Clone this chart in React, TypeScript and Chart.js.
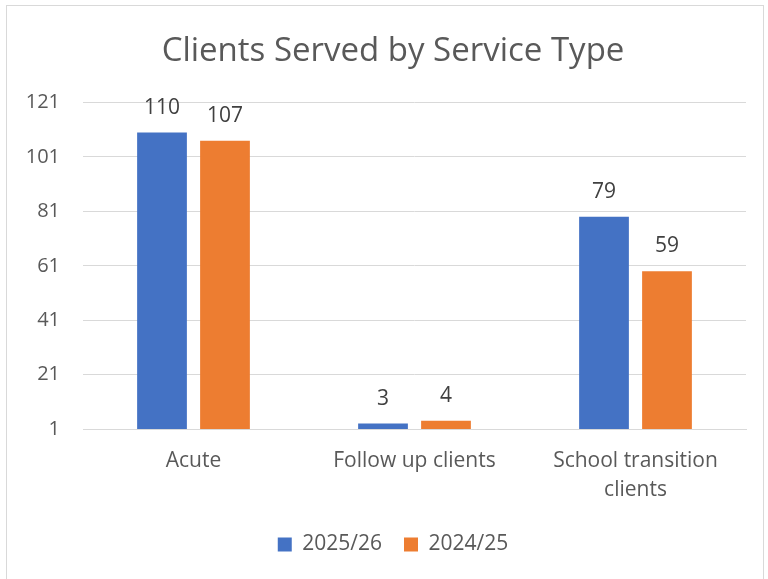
import React, { useEffect, useRef } from "react";
import { Chart, registerables } from "chart.js";

Chart.register(...registerables);

const categories: (string | string[])[] = ["Acute", "Follow up clients", ["School transition", "clients"]];
const series2526: number[] = [110, 3, 79];
const series2425: number[] = [107, 4, 59];
const yTicks: number[] = [1, 21, 41, 61, 81, 101, 121];

const FONT = "'Open Sans', Lato, sans-serif";
const TEXT = "#595959";

export default function App() {
  const ref = useRef<HTMLCanvasElement>(null);
  useEffect(() => {
    if (!ref.current) return;
    const labelPlugin = {
      id: "valueLabels",
      afterDatasetsDraw(chart: any) {
        const ctx = chart.ctx;
        ctx.save();
        ctx.font = `21px ${FONT}`;
        ctx.fillStyle = "#404040";
        ctx.textAlign = "center";
        ctx.textBaseline = "middle";
        chart.data.datasets.forEach((ds: any, di: number) => {
          const meta = chart.getDatasetMeta(di);
          meta.data.forEach((el: any, i: number) => {
            ctx.fillText(String(ds.data[i]), el.x, el.y - 25);
          });
        });
        ctx.restore();
      },
    };
    const chart = new Chart(ref.current, {
      type: "bar",
      data: {
        labels: categories,
        datasets: [
          {
            label: "2025/26",
            data: series2526,
            backgroundColor: "#4472C4",
            categoryPercentage: 0.57,
            barPercentage: 0.79,
            yAxisID: "y",
          },
          {
            label: "2024/25",
            data: series2425,
            backgroundColor: "#ED7D31",
            categoryPercentage: 0.57,
            barPercentage: 0.79,
            yAxisID: "y",
          },
        ],
      },
      options: {
        responsive: false,
        animation: false,
        layout: { padding: { left: 18, right: 0, top: 0, bottom: 14 } },
        plugins: {
          title: {
            display: true,
            text: "Clients Served by Service Type",
            color: TEXT,
            font: { family: FONT, size: 33, weight: "normal", lineHeight: 1.2 },
            padding: { top: 32, bottom: 31 },
          },
          legend: {
            position: "bottom",
            labels: {
              color: TEXT,
              font: { family: FONT, size: 21 },
              boxWidth: 14,
              boxHeight: 14,
              padding: 22,
            },
          },
          tooltip: { enabled: false },
        },
        scales: {
          x: {
            grid: { display: false, drawTicks: false },
            border: { color: "#D9D9D9", width: 1 },
            afterFit: (s: any) => {
              s.height = 83;
            },
            ticks: {
              color: TEXT,
              font: { family: FONT, size: 21, lineHeight: 1.4 },
              padding: 17,
              maxRotation: 0,
            },
          },
          y: {
            min: 1,
            max: 121,
            afterFit: (s: any) => {
              s.width = 65;
            },
            afterBuildTicks: (s: any) => {
              s.ticks = yTicks.map((v) => ({ value: v }));
            },
            grid: { color: "#D9D9D9", drawTicks: false },
            border: { display: false },
            ticks: {
              color: TEXT,
              font: { family: FONT, size: 20 },
              padding: 23,
            },
          },
          yRight: {
            position: "right",
            display: true,
            min: 0,
            max: 1,
            afterFit: (s: any) => {
              s.width = 22;
            },
            grid: { display: false, drawTicks: false },
            border: { display: false },
            ticks: { display: false },
          },
        },
      },
      plugins: [labelPlugin],
    });
    return () => chart.destroy();
  }, []);
  return (
    <div style={{ position: "fixed", left: 0, top: 0, width: 768, height: 579, background: "#fff", overflow: "hidden" }}>
      <div style={{ position: "absolute", left: 6, top: 5, width: 756, height: 600, border: "1px solid #D9D9D9" }} />
      <canvas ref={ref} width={768} height={579} style={{ position: "absolute", left: 0, top: 0 }} />
    </div>
  );
}
